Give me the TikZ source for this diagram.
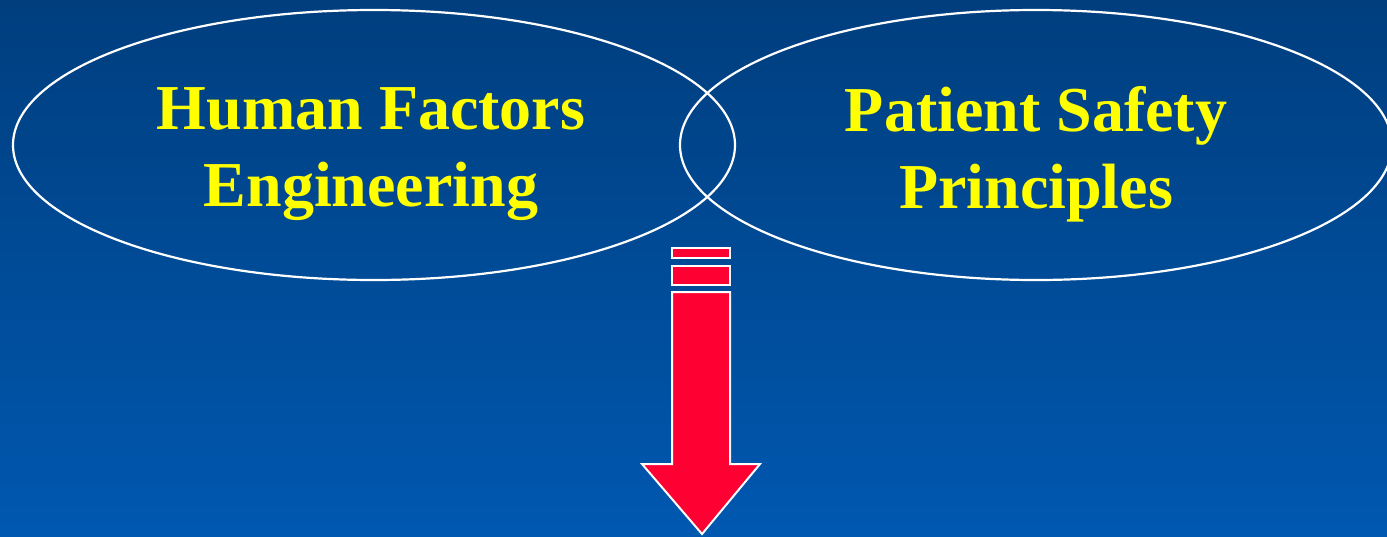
\documentclass[tikz,border=0pt]{standalone}
\usepackage{fontspec}
\setmainfont{Liberation Serif}
\usepackage{xcolor}
\usetikzlibrary{shapes.geometric,positioning}
\definecolor{slidetop}{RGB}{0,62,126}
\definecolor{slidebot}{RGB}{0,88,176}
\definecolor{arrowred}{RGB}{255,0,51}
\definecolor{labelyellow}{RGB}{255,255,0}

\begin{document}
\begin{tikzpicture}[x=1pt,y=-1pt,
    circ/.style={ellipse,draw=white,line width=2.2pt,minimum width=722pt,
      minimum height=270pt,inner sep=0pt},
    lbl/.style={text=labelyellow,align=center,yshift=-9pt,
      font=\fontsize{64}{77}\selectfont\bfseries},
    redbar/.style={fill=arrowred,draw=white,line width=2pt}]
      \useasboundingbox (0,0) rectangle (1387,536);
      \shade[top color=slidetop,bottom color=slidebot] (0,0) rectangle (1387,536);
      % the two overlapping fields
      \node[circ] (hfe) at (374,145) {};
      \node[circ,minimum width=712pt] (psp) at (1036,145) {};
      \node[lbl,xshift=-3pt] (hfetxt) at (hfe) {Human Factors\\Engineering};
      \node[lbl] (psptxt) at (psp) {Patient Safety\\Principles};
      % striped arrow below the overlap
      \foreach \ya/\yb in {248/258,266/285}
        \draw[redbar] (672,\ya) rectangle (730,\yb);
      \draw[redbar] (672,292) -- (730,292) -- (730,464) -- (760,464)
        -- (702,534) -- (642,464) -- (672,464) -- cycle;
    \end{tikzpicture}
\end{document}
